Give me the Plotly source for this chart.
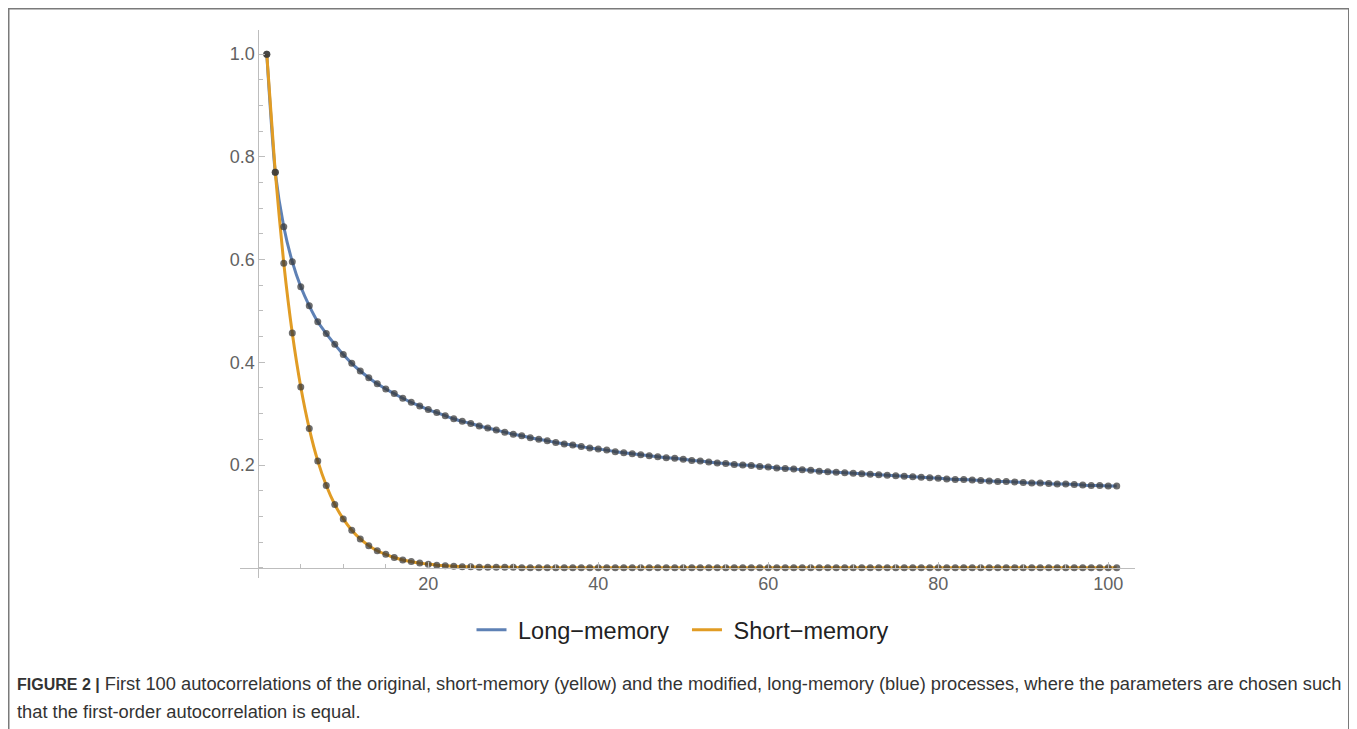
import plotly.graph_objects as go

# page body has an 8px margin; figure fills the rest of the 1357x729 window
OFF = 8
W, H = 1357 - OFF, 729 - OFF

lags = list(range(1, 102))

long_memory = [
    1.000, 0.770, 0.664, 0.596, 0.547, 0.510, 0.479, 0.456, 0.435, 0.415,
    0.398, 0.383, 0.370, 0.358, 0.348, 0.339, 0.330, 0.322, 0.315, 0.308,
    0.302, 0.296, 0.290, 0.285, 0.281, 0.276, 0.272, 0.268, 0.264, 0.260,
    0.257, 0.253, 0.250, 0.247, 0.244, 0.241, 0.239, 0.236, 0.233, 0.231,
    0.229, 0.226, 0.224, 0.222, 0.220, 0.218, 0.216, 0.214, 0.213, 0.211,
    0.209, 0.208, 0.206, 0.204, 0.203, 0.201, 0.200, 0.199, 0.197, 0.196,
    0.194, 0.193, 0.192, 0.191, 0.190, 0.188, 0.187, 0.186, 0.185, 0.184,
    0.183, 0.182, 0.181, 0.180, 0.179, 0.178, 0.177, 0.176, 0.175, 0.174,
    0.173, 0.172, 0.172, 0.171, 0.170, 0.169, 0.168, 0.168, 0.167, 0.166,
    0.165, 0.165, 0.164, 0.163, 0.163, 0.162, 0.161, 0.160, 0.160, 0.159,
    0.159,
]

short_memory = [
    1.000, 0.770, 0.593, 0.457, 0.352, 0.271, 0.208, 0.160, 0.123, 0.095,
    0.073, 0.056, 0.043, 0.033, 0.026, 0.020, 0.015, 0.012, 0.009, 0.007,
    0.005, 0.004, 0.003, 0.002, 0.002, 0.001, 0.001, 0.001, 0.001, 0.001,
    0.000, 0.000, 0.000, 0.000, 0.000, 0.000, 0.000, 0.000, 0.000, 0.000,
    0.000, 0.000, 0.000, 0.000, 0.000, 0.000, 0.000, 0.000, 0.000, 0.000,
    0.000, 0.000, 0.000, 0.000, 0.000, 0.000, 0.000, 0.000, 0.000, 0.000,
    0.000, 0.000, 0.000, 0.000, 0.000, 0.000, 0.000, 0.000, 0.000, 0.000,
    0.000, 0.000, 0.000, 0.000, 0.000, 0.000, 0.000, 0.000, 0.000, 0.000,
    0.000, 0.000, 0.000, 0.000, 0.000, 0.000, 0.000, 0.000, 0.000, 0.000,
    0.000, 0.000, 0.000, 0.000, 0.000, 0.000, 0.000, 0.000, 0.000, 0.000,
    0.000,
]

series_names = ["Long\u2212memory", "Short\u2212memory"]
x_tick_vals = [20, 40, 60, 80, 100]
x_tick_text = ["20", "40", "60", "80", "100"]
y_tick_vals = [0.2, 0.4, 0.6, 0.8, 1.0]
y_tick_text = ["0.2", "0.4", "0.6", "0.8", "1.0"]

caption_bold = "FIGURE 2 |"
caption_line1 = ("First 100 autocorrelations of the original, short-memory (yellow) "
                 "and the modified, long-memory (blue) processes, where the parameters are chosen such")
caption_line2 = "that the first-order autocorrelation is equal."

BLUE = "#5E81B5"
ORANGE = "#E19C24"
DOT = "rgba(55,55,55,0.72)"
AXIS = "#BDBDBD"


def px_x(p):
    return (p - OFF) / W


def px_y(p):
    return 1 - (p - OFF) / H


fig = go.Figure()
fig.add_trace(go.Scatter(x=lags, y=long_memory, mode="lines",
                         name="\u00a0" + series_names[0] + "\u00a0\u00a0",
                         line=dict(color=BLUE, width=3, shape="spline", smoothing=0.6)))
fig.add_trace(go.Scatter(x=lags, y=short_memory, mode="lines",
                         name="\u00a0" + series_names[1],
                         line=dict(color=ORANGE, width=3, shape="spline", smoothing=0.6)))
fig.add_trace(go.Scatter(x=lags, y=long_memory, mode="markers", showlegend=False,
                         marker=dict(color=DOT, size=7, line=dict(width=0))))
fig.add_trace(go.Scatter(x=lags, y=short_memory, mode="markers", showlegend=False,
                         marker=dict(color=DOT, size=7, line=dict(width=0))))

tick_font = dict(family="Liberation Sans, Arial, sans-serif", size=18, color="#626262")

fig.update_layout(
    width=W, height=H,
    margin=dict(l=0, r=0, t=0, b=0),
    paper_bgcolor="white", plot_bgcolor="white",
    xaxis=dict(
        domain=[px_x(240), px_x(1135)], range=[-2.15, 103.15],
        anchor="free", position=px_y(567.7),
        showline=True, linecolor=AXIS, linewidth=1,
        showgrid=False, zeroline=False,
        tickmode="array", tickvals=x_tick_vals, ticktext=x_tick_text,
        ticks="inside", ticklen=6, tickcolor=AXIS, tickwidth=1,
        tickfont=tick_font,
        minor=dict(tickmode="linear", tick0=0, dtick=5, ticks="inside", ticklen=3.5,
                   tickcolor=AXIS, tickwidth=1, showgrid=False),
    ),
    yaxis=dict(
        domain=[px_y(578), px_y(30)], range=[-0.02, 1.047],
        anchor="free", position=px_x(258.3),
        showline=True, linecolor=AXIS, linewidth=1,
        showgrid=False, zeroline=False,
        tickmode="array", tickvals=y_tick_vals, ticktext=y_tick_text,
        ticks="inside", ticklen=6, tickcolor=AXIS, tickwidth=1,
        tickfont=tick_font,
        minor=dict(tickmode="linear", tick0=0, dtick=0.05, ticks="inside", ticklen=3.5,
                   tickcolor=AXIS, tickwidth=1, showgrid=False),
    ),
    legend=dict(orientation="h", x=px_x(683), xanchor="center", y=px_y(630), yanchor="middle",
                font=dict(family="Liberation Sans, Arial, sans-serif", size=23.5, color="#222222"),
                bgcolor="rgba(0,0,0,0)"),
    showlegend=True,
)

fig.add_shape(type="rect", xref="paper", yref="paper",
              x0=px_x(8.5), x1=px_x(1349), y0=px_y(745), y1=px_y(8.5),
              line=dict(color="#7a7a7a", width=2), fillcolor="rgba(0,0,0,0)", layer="below")

cap_font = dict(family="Liberation Sans, Arial, sans-serif", size=18.3, color="#333333")
fig.add_annotation(text="<b><span style='font-size:16px'>" + caption_bold + "</span></b> " + caption_line1,
                   xref="paper", yref="paper", x=px_x(15), y=px_y(683),
                   xanchor="left", yanchor="middle", showarrow=False, font=cap_font, align="left")
fig.add_annotation(text=caption_line2, xref="paper", yref="paper", x=px_x(15), y=px_y(711),
                   xanchor="left", yanchor="middle", showarrow=False, font=cap_font, align="left")

fig.write_html("out.html")
